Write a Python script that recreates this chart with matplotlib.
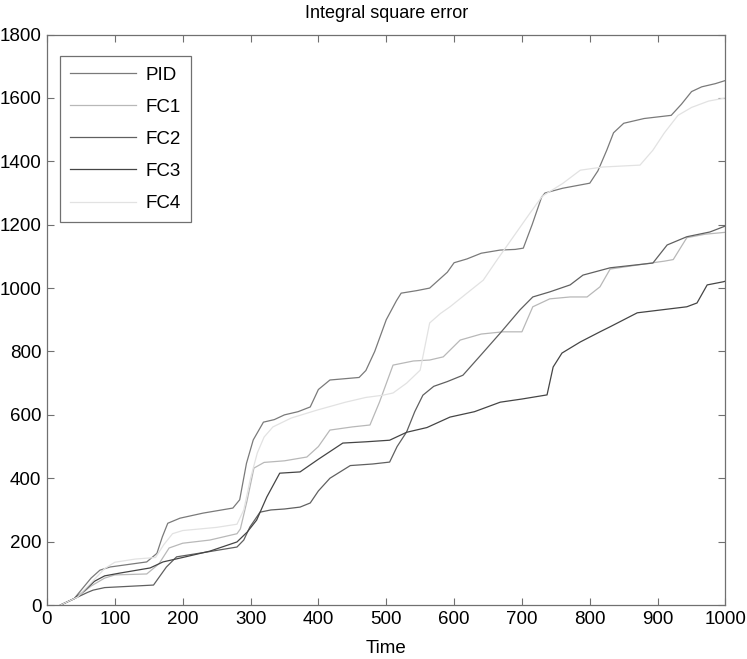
import matplotlib
matplotlib.use("Agg")
import matplotlib.pyplot as plt

plt.rcParams["font.family"] = ["Liberation Sans", "DejaVu Sans"]

# 데이터
t_pid = [20, 40, 53, 65, 78, 93, 120, 147, 162, 170, 178, 196, 230, 274, 284, 294, 304, 319,
         335, 350, 370, 388, 400, 417, 460, 470, 483, 500, 515, 522, 545, 564, 590, 600, 619,
         640, 668, 690, 702, 715, 729, 734, 760, 800, 812, 825, 835, 850, 880, 920, 935, 950,
         965, 985, 1000]
y_pid = [0, 20, 54, 85, 110, 120, 128, 136, 163, 215, 258, 274, 290, 306, 332, 447, 521, 577,
         585, 600, 610, 625, 680, 710, 718, 740, 800, 900, 960, 984, 992, 1000, 1050, 1080, 1092,
         1110, 1120, 1122, 1126, 1200, 1287, 1300, 1315, 1331, 1370, 1435, 1490, 1520, 1535, 1545,
         1580, 1620, 1635, 1645, 1655]

t_fc1 = [20, 45, 65, 85, 100, 147, 165, 180, 200, 240, 280, 285, 295, 305, 320, 350, 383, 400,
         417, 450, 476, 490, 510, 540, 564, 584, 609, 640, 672, 700, 716, 741, 771, 796, 815,
         830, 893, 910, 923, 943, 970, 1000]
y_fc1 = [0, 25, 60, 85, 95, 98, 130, 180, 195, 205, 225, 240, 330, 432, 450, 455, 467, 500,
         552, 562, 568, 640, 757, 770, 773, 783, 836, 855, 862, 862, 941, 966, 972, 972, 1004,
         1060, 1080, 1085, 1090, 1159, 1170, 1176]

t_fc2 = [20, 40, 60, 68, 85, 103, 157, 166, 176, 191, 235, 280, 290, 299, 314, 330, 350, 373,
         388, 400, 417, 447, 480, 505, 516, 530, 542, 554, 570, 590, 613, 640, 668, 697, 716,
         741, 771, 790, 830, 893, 914, 943, 977, 1000]
y_fc2 = [0, 20, 40, 47, 55, 57, 63, 90, 120, 152, 167, 183, 205, 246, 293, 300, 303, 309,
         322, 360, 400, 440, 445, 451, 500, 546, 610, 662, 690, 705, 725, 790, 858, 931, 972,
         988, 1010, 1041, 1064, 1079, 1136, 1162, 1177, 1196]

t_fc3 = [20, 40, 55, 70, 85, 108, 152, 171, 200, 240, 280, 295, 309, 324, 343, 373, 400, 436,
         470, 505, 530, 560, 594, 630, 668, 700, 737, 746, 759, 786, 815, 830, 870, 943, 958,
         973, 997, 1000]
y_fc3 = [0, 20, 45, 75, 92, 101, 117, 136, 150, 170, 199, 230, 268, 341, 416, 420, 460, 511,
         515, 520, 545, 560, 593, 610, 640, 650, 663, 751, 795, 830, 862, 878, 922, 941, 953,
         1010, 1020, 1022]

t_fc4 = [20, 45, 65, 85, 100, 130, 160, 172, 185, 200, 250, 280, 290, 300, 310, 320, 333, 360,
         398, 440, 470, 495, 510, 530, 550, 564, 580, 594, 619, 643, 663, 690, 712, 730, 760,
         786, 819, 874, 893, 910, 930, 950, 975, 1000]
y_fc4 = [0, 25, 70, 115, 135, 145, 150, 190, 225, 235, 245, 255, 300, 400, 480, 530, 562, 590,
         615, 640, 655, 662, 669, 700, 741, 890, 920, 941, 984, 1025, 1088, 1170, 1237, 1290,
         1330, 1372, 1382, 1388, 1435, 1490, 1545, 1570, 1590, 1600]

labels = ["PID", "FC1", "FC2", "FC3", "FC4"]
colors = ["#7a7a7a", "#b8b8b8", "#606060", "#454545", "#e2e2e2"]


def main():
    fig = plt.figure(figsize=(7.47, 6.59), dpi=100)
    ax = fig.add_axes([0.0629, 0.0819, 0.9083, 0.8657])

    series = [(t_pid, y_pid), (t_fc1, y_fc1), (t_fc2, y_fc2), (t_fc3, y_fc3), (t_fc4, y_fc4)]
    for (t, y), lab, c in zip(series, labels, colors):
        ax.plot(t, y, color=c, lw=0.9, label=lab)

    ax.set_xlim(0, 1000)
    ax.set_ylim(0, 1800)
    ax.set_xticks(range(0, 1001, 100))
    ax.set_yticks(range(0, 1801, 200))
    ax.tick_params(direction="in", length=5, width=0.8, color="#707070",
                   labelsize=13.5, pad=4, top=True, right=True)
    for s in ax.spines.values():
        s.set_color("#707070")
        s.set_linewidth(0.9)

    ax.set_title("Integral square error", fontsize=13, pad=12)
    ax.set_xlabel("Time", fontsize=13.5, labelpad=9)

    leg = ax.legend(loc="upper left", bbox_to_anchor=(0.019, 0.962), borderaxespad=0,
                    fontsize=13.5, handlelength=3.5, handletextpad=0.5, labelspacing=0.8,
                    fancybox=False, framealpha=1, borderpad=0.55)
    leg.get_frame().set_edgecolor("#707070")
    leg.get_frame().set_linewidth(0.9)

    fig.savefig("out.png", dpi=100)


if __name__ == "__main__":
    main()
